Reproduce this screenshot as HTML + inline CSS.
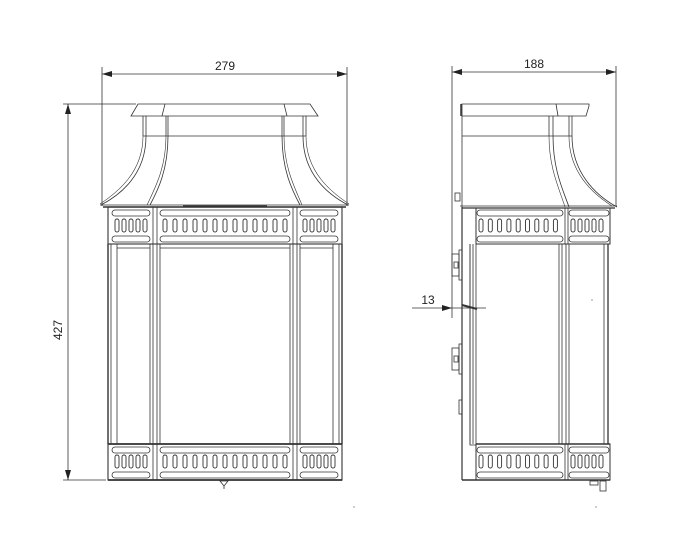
<!DOCTYPE html>
<html><head><meta charset="utf-8"><style>
html,body{margin:0;padding:0;background:#fff;}
svg{display:block;}
text{font-family:"Liberation Sans",sans-serif;font-size:12px;fill:#222;}
</style></head><body>
<svg width="700" height="549" viewBox="0 0 700 549" xmlns="http://www.w3.org/2000/svg">
<defs>
<rect id="s" x="-2" y="0" width="4" height="13" rx="2" fill="none" stroke="#333" stroke-width="0.9"/>
<g id="row13">
<use href="#s" x="165"/><use href="#s" x="175"/><use href="#s" x="185"/><use href="#s" x="195"/><use href="#s" x="205"/><use href="#s" x="215"/><use href="#s" x="225"/><use href="#s" x="235"/><use href="#s" x="245"/><use href="#s" x="255"/><use href="#s" x="265"/><use href="#s" x="275"/><use href="#s" x="285"/>
</g>
<g id="row5"><use href="#s" x="0"/><use href="#s" x="7"/><use href="#s" x="14"/><use href="#s" x="21"/><use href="#s" x="28"/></g>
<g id="row9"><use href="#s" x="0"/><use href="#s" x="9.3"/><use href="#s" x="18.6"/><use href="#s" x="27.9"/><use href="#s" x="37.2"/><use href="#s" x="46.5"/><use href="#s" x="55.8"/><use href="#s" x="65.1"/><use href="#s" x="74.4"/></g>
<marker id="a" viewBox="0 0 10 6" refX="10" refY="3" markerWidth="10" markerHeight="6" orient="auto-start-reverse" markerUnits="userSpaceOnUse"><path d="M0,0L10,3L0,6z" fill="#222"/></marker>
</defs>

<g stroke="#333" fill="none" stroke-width="0.8">
<line x1="102" y1="67" x2="102" y2="206"/>
<line x1="347" y1="67" x2="347" y2="206"/>
<line x1="102" y1="74" x2="347" y2="74" marker-start="url(#a)" marker-end="url(#a)"/>
<line x1="63" y1="104" x2="136" y2="104"/>
<line x1="63" y1="480" x2="106" y2="480"/>
<line x1="68" y1="104" x2="68" y2="480" marker-start="url(#a)" marker-end="url(#a)"/>

<path d="M138,104 L310,104 L318,116 L131,116 Z"/>
<line x1="165" y1="104" x2="162" y2="116"/>
<line x1="284" y1="104" x2="287" y2="116"/>
<line x1="143" y1="116" x2="143" y2="136"/><line x1="146" y1="116" x2="146" y2="136"/>
<line x1="166" y1="116" x2="166" y2="136"/><line x1="168" y1="116" x2="168" y2="136"/>
<line x1="282" y1="116" x2="282" y2="136"/><line x1="284" y1="116" x2="284" y2="136"/>
<line x1="303" y1="116" x2="303" y2="136"/><line x1="306" y1="116" x2="306" y2="136"/>
<line x1="143" y1="136" x2="306" y2="136"/>
<path d="M146,136 C146,175 120,195 101,205"/>
<path d="M143,136 C143,172 118,192 100,204" stroke-width="0.6"/>
<path d="M168,136 C168,170 158,190 150,205"/>
<path d="M166,136 C166,168 155,188 147,205" stroke-width="0.6"/>
<path d="M303,136 C303,175 329,195 348,205"/>
<path d="M306,136 C306,172 331,192 349,204" stroke-width="0.6"/>
<path d="M282,136 C282,170 292,190 300,205"/>
<path d="M284,136 C284,168 295,188 302,205" stroke-width="0.6"/>
<line x1="100" y1="205" x2="349" y2="205"/>
<line x1="103" y1="207" x2="346" y2="207" stroke-width="1.4"/>
<line x1="183" y1="206" x2="267" y2="206" stroke-width="1.2"/>

<rect x="108" y="207" width="234" height="37" stroke-width="1.1"/>
<line x1="153" y1="207" x2="153" y2="244"/><line x1="157" y1="207" x2="157" y2="244"/>
<line x1="293" y1="207" x2="293" y2="244"/><line x1="297" y1="207" x2="297" y2="244"/>
<rect x="112" y="210" width="38" height="6" rx="3"/><rect x="160" y="210" width="130" height="6" rx="3"/><rect x="300" y="210" width="38" height="6" rx="3"/>
<rect x="112" y="236" width="38" height="6" rx="3"/><rect x="160" y="236" width="130" height="6" rx="3"/><rect x="300" y="236" width="38" height="6" rx="3"/>
<use href="#row13" y="219"/>
<use href="#row5" x="117" y="219"/><use href="#row5" x="305" y="219"/>

<line x1="108" y1="244" x2="108" y2="444" stroke-width="1.4"/><line x1="111" y1="244" x2="111" y2="444"/><line x1="117" y1="244" x2="117" y2="444"/>
<line x1="150" y1="244" x2="150" y2="444"/><line x1="153" y1="244" x2="153" y2="444"/><line x1="157" y1="244" x2="157" y2="444"/><line x1="160" y1="244" x2="160" y2="444"/>
<line x1="290" y1="244" x2="290" y2="444"/><line x1="293" y1="244" x2="293" y2="444"/><line x1="297" y1="244" x2="297" y2="444"/><line x1="300" y1="244" x2="300" y2="444"/>
<line x1="333" y1="244" x2="333" y2="444"/><line x1="339" y1="244" x2="339" y2="444"/><line x1="342" y1="244" x2="342" y2="444" stroke-width="1.4"/>
<line x1="117" y1="248" x2="150" y2="248"/><line x1="160" y1="248" x2="290" y2="248"/><line x1="300" y1="248" x2="333" y2="248"/>

<rect x="108" y="444" width="234" height="36" stroke-width="1.1"/>
<line x1="108" y1="444" x2="342" y2="444" stroke-width="1.8"/>
<line x1="108" y1="480" x2="342" y2="480" stroke-width="1.8"/>
<line x1="153" y1="444" x2="153" y2="480"/><line x1="157" y1="444" x2="157" y2="480"/>
<line x1="293" y1="444" x2="293" y2="480"/><line x1="297" y1="444" x2="297" y2="480"/>
<rect x="112" y="447" width="38" height="6" rx="3"/><rect x="160" y="447" width="130" height="6" rx="3"/><rect x="300" y="447" width="38" height="6" rx="3"/>
<rect x="112" y="472" width="38" height="6" rx="3"/><rect x="160" y="472" width="130" height="6" rx="3"/><rect x="300" y="472" width="38" height="6" rx="3"/>
<use href="#row13" y="455"/>
<use href="#row5" x="117" y="455"/><use href="#row5" x="305" y="455"/>
<path d="M220,481 L228,481 L224,486 Z"/><line x1="224" y1="486" x2="224" y2="489"/>

<line x1="452" y1="66" x2="452" y2="318"/>
<line x1="616" y1="66" x2="616" y2="206"/>
<line x1="452" y1="72" x2="616" y2="72" marker-start="url(#a)" marker-end="url(#a)"/>
<line x1="412" y1="308" x2="452" y2="308" marker-end="url(#a)"/>
<line x1="452" y1="308" x2="486" y2="308"/>
<line x1="462" y1="305" x2="477" y2="309" stroke-width="2"/>

<path d="M462,104 L556,104 L589,104 L589,106 L586,116 L462,116 Z"/>
<line x1="461" y1="104" x2="461" y2="116" stroke-width="1.5"/>
<line x1="556" y1="104" x2="558" y2="116"/>
<line x1="462" y1="116" x2="462" y2="207"/>
<line x1="549" y1="116" x2="549" y2="136"/><line x1="553" y1="116" x2="553" y2="136"/>
<line x1="569" y1="116" x2="569" y2="136"/><line x1="572" y1="116" x2="572" y2="136"/>
<line x1="462" y1="136" x2="572" y2="136"/>
<path d="M553,136 C553,170 563,190 569,207"/>
<path d="M549,136 C549,168 559,188 565,207" stroke-width="0.6"/>
<path d="M572,136 C572,172 595,195 617,207"/>
<path d="M569,136 C569,170 590,192 612,206" stroke-width="0.6"/>
<line x1="460" y1="206" x2="617" y2="206"/>
<line x1="462" y1="208" x2="615" y2="208" stroke-width="1.3"/>
<rect x="455" y="193" width="5" height="8"/>

<rect x="476" y="208" width="134" height="36" stroke-width="1"/>
<line x1="565" y1="208" x2="565" y2="244"/><line x1="568" y1="208" x2="568" y2="244"/>
<rect x="477" y="210" width="86" height="6" rx="3"/><rect x="569" y="210" width="40" height="6" rx="3"/>
<rect x="477" y="236" width="86" height="6" rx="3"/><rect x="569" y="236" width="40" height="6" rx="3"/>
<use href="#row9" x="481" y="219"/><use href="#row5" x="573" y="219"/>

<line x1="462" y1="207" x2="462" y2="480" stroke-width="1.2"/>
<line x1="470" y1="244" x2="470" y2="444"/>
<line x1="473" y1="244" x2="473" y2="444"/>
<line x1="476" y1="244" x2="476" y2="444"/>
<line x1="559" y1="244" x2="559" y2="444"/><line x1="562" y1="244" x2="562" y2="444"/>
<line x1="566" y1="244" x2="566" y2="444"/><line x1="569" y1="244" x2="569" y2="444"/>
<line x1="604" y1="244" x2="604" y2="444"/><line x1="608" y1="244" x2="608" y2="444" stroke-width="1.3"/>
<path d="M470,244 L470,445 L476,445" />
<rect x="452" y="254" width="7" height="22"/><rect x="459" y="250" width="3" height="30"/><rect x="454" y="262" width="4" height="6"/>
<rect x="452" y="348" width="7" height="22"/><rect x="459" y="344" width="3" height="30"/><rect x="454" y="356" width="4" height="6"/>
<rect x="459" y="400" width="3" height="14"/>

<rect x="476" y="444" width="134" height="36" stroke-width="1"/>
<line x1="476" y1="444" x2="610" y2="444" stroke-width="1.6"/>
<line x1="462" y1="480" x2="610" y2="480" stroke-width="1.6"/>
<line x1="565" y1="444" x2="565" y2="480"/><line x1="568" y1="444" x2="568" y2="480"/>
<rect x="477" y="447" width="86" height="6" rx="3"/><rect x="569" y="447" width="40" height="6" rx="3"/>
<rect x="477" y="472" width="86" height="6" rx="3"/><rect x="569" y="472" width="40" height="6" rx="3"/>
<use href="#row9" x="481" y="455"/><use href="#row5" x="573" y="455"/>
<rect x="590" y="481" width="8" height="4"/><rect x="600" y="481" width="6" height="10"/>
</g>

<text x="225" y="70" text-anchor="middle">279</text>
<text x="534" y="68" text-anchor="middle">188</text>
<text x="428" y="304" text-anchor="middle">13</text>
<text x="62" y="330" text-anchor="middle" transform="rotate(-90 62 330)">427</text>
<circle cx="592" cy="300" r="0.6" fill="#555"/>
<circle cx="596" cy="507" r="0.6" fill="#555"/>
<circle cx="354" cy="507" r="0.6" fill="#555"/>
</svg>
</body></html>
